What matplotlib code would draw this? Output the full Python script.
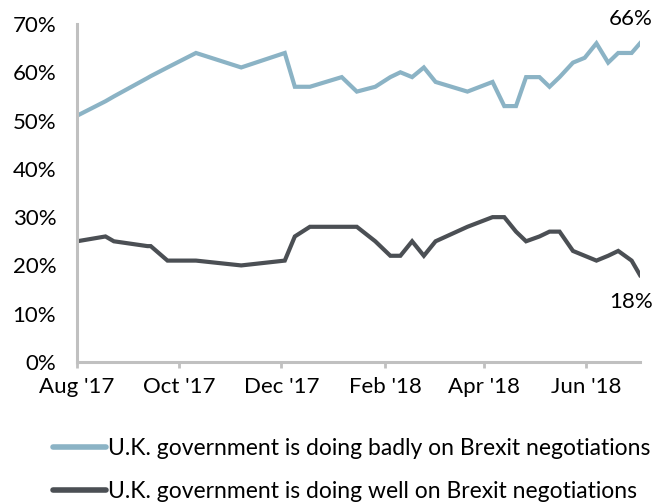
import matplotlib
matplotlib.use("Agg")
import matplotlib.pyplot as plt
import pandas as pd
from matplotlib.lines import Line2D

plt.rcParams['font.family'] = ['Lato', 'DejaVu Sans']

dates = ["2017-08-01", "2017-08-18", "2017-08-23", "2017-09-12", "2017-09-14",
         "2017-09-24", "2017-10-11", "2017-11-07", "2017-12-03", "2017-12-09",
         "2017-12-18", "2018-01-06", "2018-01-15", "2018-01-26", "2018-02-04",
         "2018-02-10", "2018-02-17", "2018-02-24", "2018-03-03", "2018-03-22",
         "2018-04-06", "2018-04-13", "2018-04-20", "2018-04-26", "2018-05-04",
         "2018-05-10", "2018-05-16", "2018-05-24", "2018-05-31", "2018-06-07",
         "2018-06-14", "2018-06-20", "2018-06-28", "2018-07-03"]
badly = [51, 54, 55, 58.8, 59.2, 61, 64, 61, 64, 57,
         57, 59, 56, 57, 59, 60, 59, 61, 58, 56,
         58, 53, 53, 59, 59, 57, 59, 62, 63, 66,
         62, 64, 64, 66]
well = [25, 26, 25, 24, 24, 21, 21, 20, 21, 26,
        28, 28, 28, 25, 22, 22, 25, 22, 25, 28,
        30, 30, 27, 25, 26, 27, 27, 23, 22, 21,
        22, 23, 21, 18]
yticks = [0, 10, 20, 30, 40, 50, 60, 70]
xtick_dates = ["2017-08-01", "2017-10-01", "2017-12-01", "2018-02-01", "2018-04-01", "2018-06-01"]
xtick_labels = ["Aug '17", "Oct '17", "Dec '17", "Feb '18", "Apr '18", "Jun '18"]
label_badly = "U.K. government is doing badly on Brexit negotiations"
label_well = "U.K. government is doing well on Brexit negotiations"

c_light = "#8bb3c5"
c_dark = "#4b4f54"
grey = "#c0c0c0"
fs = 16

d = pd.to_datetime(dates)
fig = plt.figure(figsize=(6.54, 5.04), dpi=100)
ax = fig.add_axes([77/654, 1 - 362/504, (640 - 77)/654, (362 - 24)/504])

ax.plot(d, badly, color=c_light, lw=3.0, solid_joinstyle='miter')
ax.plot(d, well, color=c_dark, lw=3.0, solid_joinstyle='miter')

ax.set_ylim(0, 70)
ax.set_xlim(pd.Timestamp("2017-08-01"), d[-1])
ax.set_yticks(yticks)
ax.set_yticklabels([f"{v}%" for v in yticks], fontsize=fs)
ax.set_xticks(pd.to_datetime(xtick_dates))
ax.set_xticklabels(xtick_labels, fontsize=fs)
ax.tick_params(axis='y', length=0, pad=15)
ax.tick_params(axis='x', length=4, width=2, color=grey, pad=7)

for s in ['top', 'right']:
    ax.spines[s].set_visible(False)
for s in ['left', 'bottom']:
    ax.spines[s].set_color(grey)
    ax.spines[s].set_linewidth(2.2)

ax.annotate("66%", xy=(d[-1], badly[-1]), xytext=(9, 10), textcoords='offset points',
            ha='right', va='bottom', fontsize=fs, annotation_clip=False)
ax.annotate("18%", xy=(d[-1], well[-1]), xytext=(9, -12), textcoords='offset points',
            ha='right', va='top', fontsize=fs, annotation_clip=False)

handles = [Line2D([], [], color=c_light, lw=4, solid_capstyle='round'),
           Line2D([], [], color=c_dark, lw=4, solid_capstyle='round')]
fig.legend(handles, [label_badly, label_well], loc='upper left',
           bbox_to_anchor=(44/654, 1 - 429/504), frameon=False, fontsize=16.5,
           handlelength=2.3, handletextpad=0.1, labelspacing=0.95, borderaxespad=0)

fig.savefig("out.png", dpi=100)
